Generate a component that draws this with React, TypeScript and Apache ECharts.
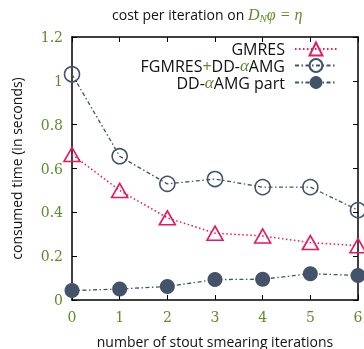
import React, { useEffect, useRef } from "react";
import * as echarts from "echarts";

const iterations = ["0", "1", "2", "3", "4", "5", "6"];
const gmres = [0.664, 0.5, 0.375, 0.305, 0.292, 0.262, 0.248];
const fgmres = [1.03, 0.656, 0.53, 0.552, 0.515, 0.515, 0.41];
const ddPart = [0.043, 0.05, 0.062, 0.093, 0.095, 0.12, 0.112];
const yTicks = [0, 0.2, 0.4, 0.6, 0.8, 1, 1.2];

const GREEN = "#5f8a2a";
const RED = "#e8175d";
const SLATE = "#43546a";
const SANS = "'Open Sans', 'DejaVu Sans', sans-serif";
const SERIF = "'DejaVu Serif', 'Liberation Serif', serif";
const MATH = "'Liberation Serif', 'DejaVu Serif', serif";

export default function App() {
  const ref = useRef<HTMLDivElement>(null);
  useEffect(() => {
    const chart = echarts.init(ref.current!, null, { renderer: "svg" });
    const tickLabel = { color: GREEN, fontFamily: SERIF, fontSize: 14 };
    const base = { fontFamily: SANS, fontSize: 16, color: "#111", fontWeight: "normal" };
    const legendRich = {
      t: base,
      e: { ...base, padding: [0, 5, 0, 0] },
      g: { ...base, color: GREEN },
      a: { fontFamily: MATH, fontStyle: "italic", fontSize: 17, color: GREEN, fontWeight: "normal" },
    };
    const frameLine = { show: true, onZero: false, lineStyle: { color: "#000", width: 1.5 } };
    const frameTick = { show: true, inside: true, length: 5, lineStyle: { color: "#000" } };
    chart.setOption({
      animation: false,
      title: {
        text: "{t|cost per iteration on }{m|D}{s|N}{m|φ = η}",
        left: 112,
        top: 5,
        padding: 0,
        textStyle: {
          fontWeight: "normal",
          rich: {
            t: { fontFamily: SANS, fontSize: 14, color: "#111", fontWeight: "normal" },
            m: { fontFamily: MATH, fontStyle: "italic", fontSize: 16, color: GREEN, fontWeight: "normal" },
            s: { fontFamily: MATH, fontStyle: "italic", fontSize: 11, color: GREEN, fontWeight: "normal", padding: [7, 0, 0, 0] },
          },
        },
      },
      grid: { left: 72, right: 6, top: 37, bottom: 49, outerBoundsMode: "none", containLabel: false },
      legend: {
        orient: "vertical",
        align: "right",
        right: 26,
        top: 41,
        padding: 0,
        itemWidth: 42,
        itemHeight: 16,
        itemGap: 0,
        data: ["GMRES", "FGMRES+DD-αAMG", "DD-αAMG part"],
        formatter: (name: string) => {
          if (name === "GMRES") return "{e|GMRES}";
          if (name === "FGMRES+DD-αAMG") return "{t|FGMRES}{g|+}{t|DD-}{a|α}{e|AMG}";
          return "{t|DD-}{a|α}{e|AMG part}";
        },
        textStyle: { fontWeight: "normal", rich: legendRich },
      },
      xAxis: [
        {
          type: "category",
          data: iterations,
          boundaryGap: false,
          axisLine: frameLine,
          axisTick: frameTick,
          axisLabel: { ...tickLabel, margin: 10 },
          name: "number of stout smearing iterations",
          nameLocation: "middle",
          nameGap: 34,
          nameTextStyle: { fontFamily: SANS, fontSize: 14, color: "#111" },
          splitLine: { show: false },
        },
        {
          type: "category",
          data: iterations,
          boundaryGap: false,
          position: "top",
          axisLine: frameLine,
          axisTick: frameTick,
          axisLabel: { show: false },
          splitLine: { show: false },
        },
      ],
      yAxis: [
        {
          type: "value",
          min: 0,
          max: 1.2,
          interval: 0.2,
          axisLine: frameLine,
          axisTick: frameTick,
          axisLabel: {
            ...tickLabel,
            margin: 9,
            formatter: (v: number) => {
              const t = yTicks.find((y) => Math.abs(y - v) < 1e-9);
              return t === undefined ? "" : String(+t.toFixed(1));
            },
          },
          splitLine: { show: false },
          name: "consumed time (in seconds)",
          nameLocation: "middle",
          nameGap: 49,
          nameTextStyle: { fontFamily: SANS, fontSize: 14, color: "#111" },
        },
        {
          type: "value",
          min: 0,
          max: 1.2,
          interval: 0.2,
          position: "right",
          axisLine: frameLine,
          axisTick: frameTick,
          axisLabel: { show: false },
          splitLine: { show: false },
        },
      ],
      series: [
        {
          name: "GMRES",
          type: "line",
          data: gmres,
          symbol: "triangle",
          symbolSize: [16, 14],
          itemStyle: { color: "rgba(255,255,255,0)", borderColor: RED, borderWidth: 1.6 },
          lineStyle: { color: RED, width: 1.5, type: [1.5, 2.5] },
          z: 3,
        },
        {
          name: "FGMRES+DD-αAMG",
          type: "line",
          xAxisIndex: 1,
          yAxisIndex: 1,
          data: fgmres,
          symbol: "circle",
          symbolSize: 15,
          itemStyle: { color: "rgba(255,255,255,0)", borderColor: SLATE, borderWidth: 1.6 },
          lineStyle: { color: SLATE, width: 1.3, type: [4, 2.5, 1.5, 2.5] },
          z: 2,
        },
        {
          name: "DD-αAMG part",
          type: "line",
          data: ddPart,
          symbol: "circle",
          symbolSize: 15,
          itemStyle: { color: SLATE, borderColor: SLATE, borderWidth: 0 },
          lineStyle: { color: SLATE, width: 1.3, type: [4, 2.5, 1.5, 2.5] },
          z: 4,
        },
      ],
    });
    return () => chart.dispose();
  }, []);
  return <div ref={ref} style={{ position: "fixed", left: 0, top: 0, width: 364, height: 349 }} />;
}
